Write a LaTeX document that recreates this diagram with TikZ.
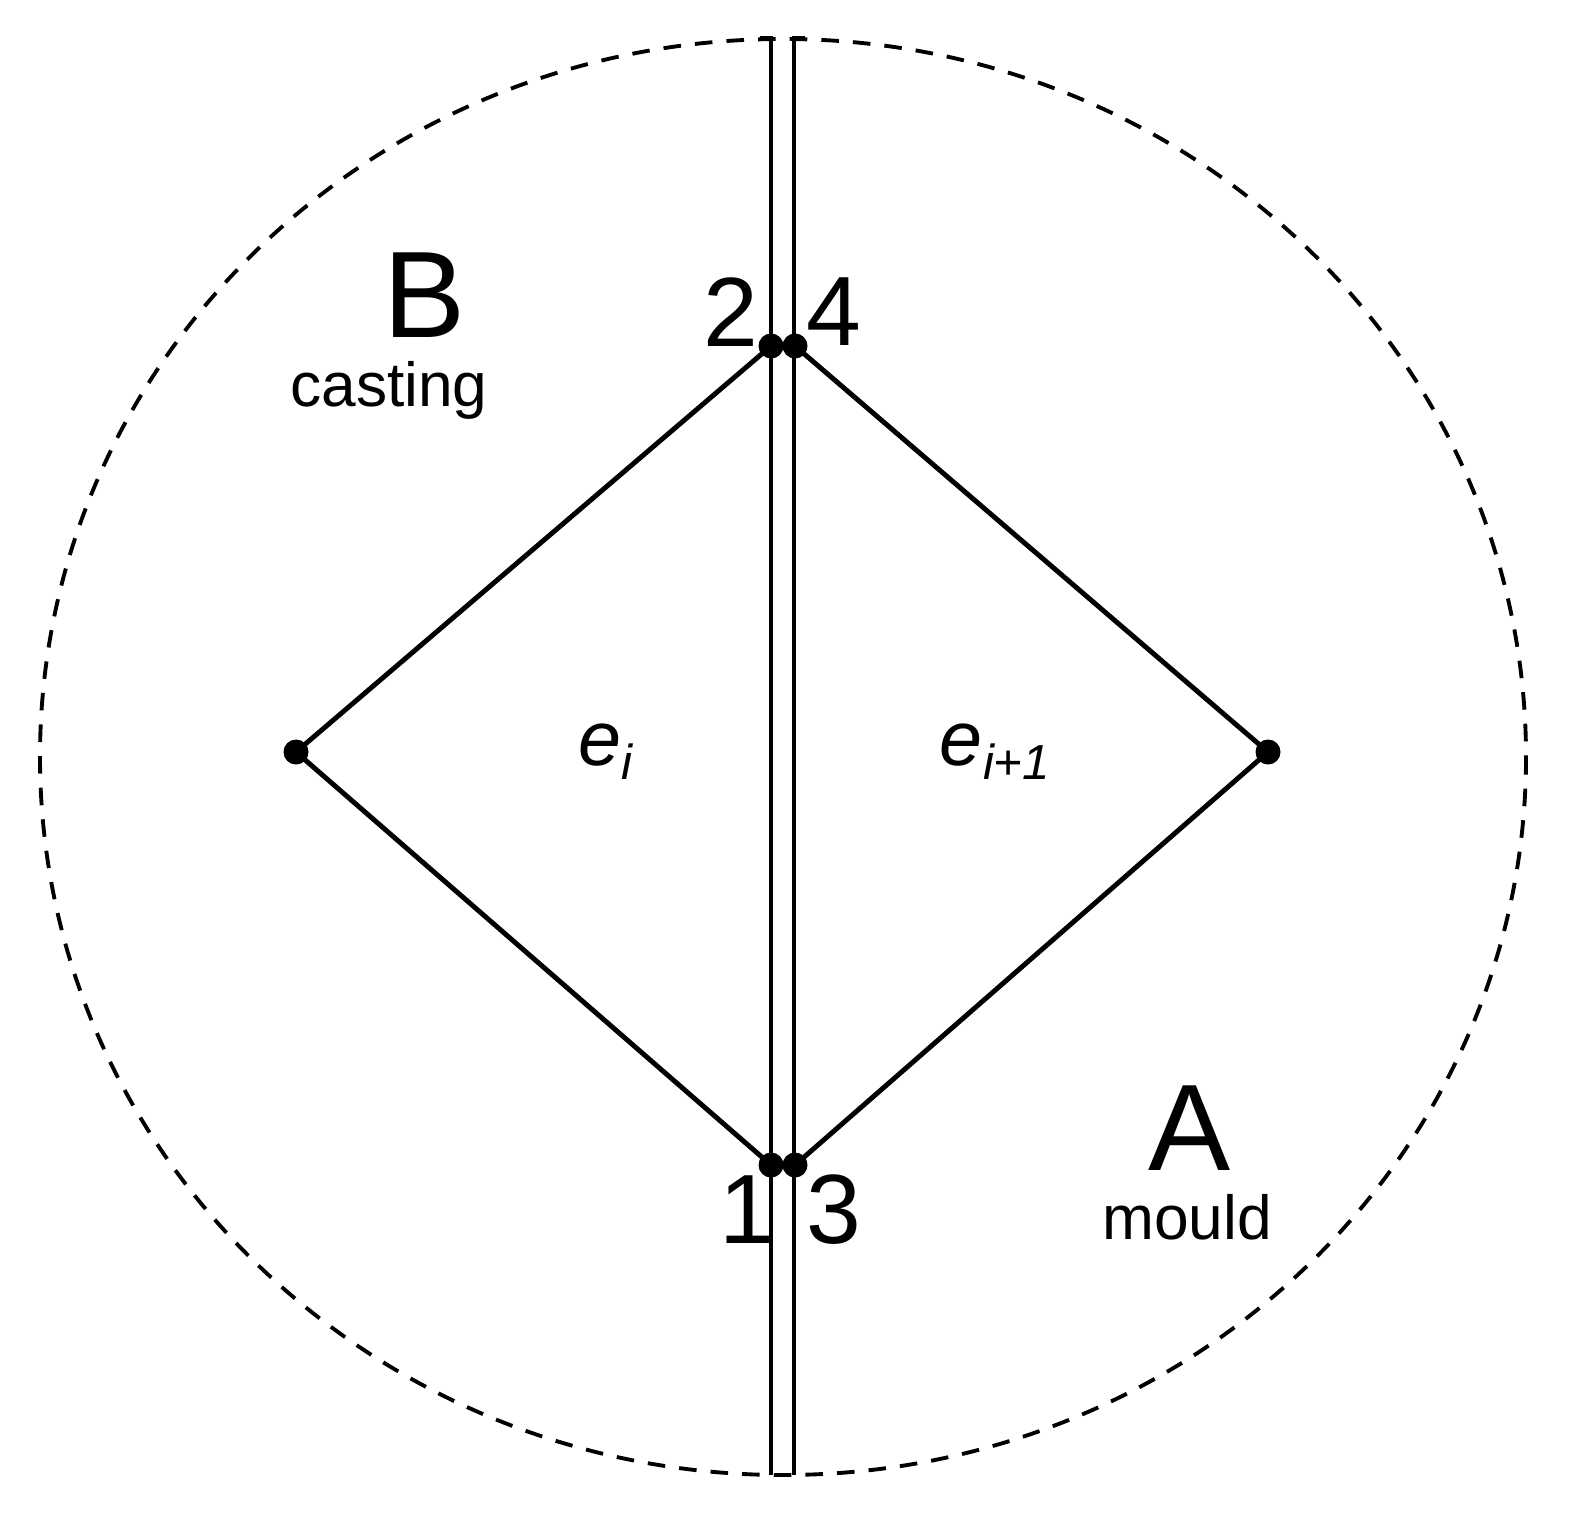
\documentclass[tikz,border=0pt]{standalone}
\usepackage{fontspec}
\setmainfont{Liberation Sans}
\begin{document}
\begin{tikzpicture}[x=0.01cm,y=-0.01cm,
  ln/.style={line width=1.4pt},
  dot/.style={circle,fill=black,inner sep=0pt,minimum size=0.25cm},
  big/.style={font=\fontsize{35}{37}\selectfont},
  num/.style={font=\fontsize{28}{30}\selectfont},
  small/.style={font=\fontsize{17.7}{19}\selectfont},
  el/.style={font=\fontsize{22}{24}\selectfont\itshape}]
\useasboundingbox (0,0) rectangle (1577,1522);
\draw[line width=1.1pt,dash pattern=on 5pt off 4pt] (783,757) ellipse [x radius=743, y radius=718];
\coordinate (lt) at (771,38); \coordinate (lb) at (771,1475);
\coordinate (rt) at (794,38); \coordinate (rb) at (794,1475);
\draw[ln] (760,38) -- (lt) -- (lb);
\draw[ln] (805,38) -- (rt) -- (rb);
\node[dot] (n2) at (771,346) {};
\node[dot] (n4) at (795,346) {};
\node[dot] (n1) at (771,1165) {};
\node[dot] (n3) at (795,1165) {};
\node[dot] (w) at (296,752) {};
\node[dot] (e) at (1268,752) {};
\draw[ln] (n2.center) -- (w.center) -- (n1.center);
\draw[ln] (n4.center) -- (e.center) -- (n3.center);
\node[num] at (731,312) {2};
\node[num] at (834,312) {4};
\node[num] at (747,1210) {1};
\node[num] at (834,1210) {3};
\node[big] at (425,295) {B};
\node[small] at (389,390) {casting};
\node[big] at (1190,1128) {A};
\node[small] at (1187,1217) {mould};
\node[el] at (605,752) {e\raisebox{-0.35ex}{\fontsize{14}{16}\selectfont i}};
\node[el] at (995,752) {e\raisebox{-0.35ex}{\fontsize{14}{16}\selectfont i+1}};
\end{tikzpicture}
\end{document}
